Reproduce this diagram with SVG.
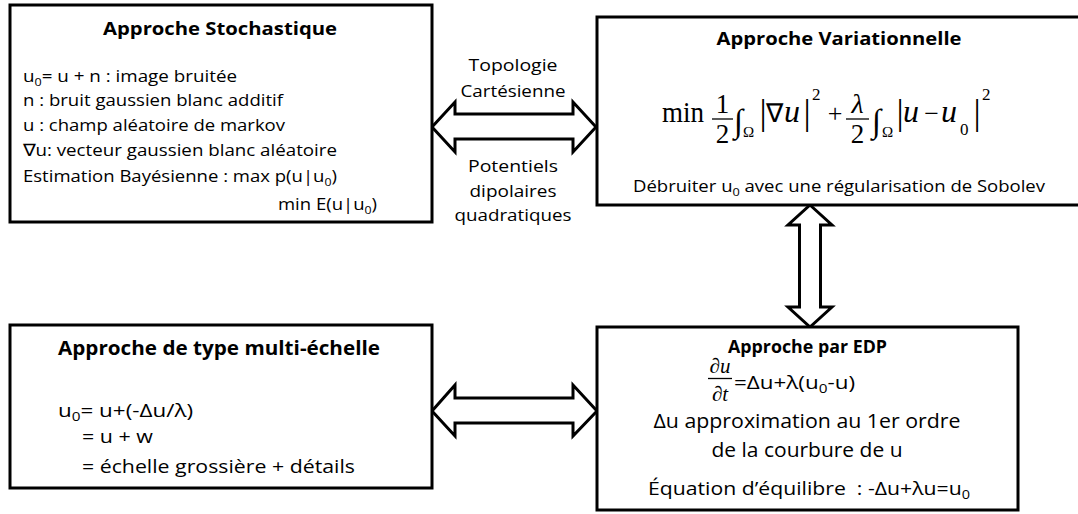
<svg xmlns="http://www.w3.org/2000/svg" width="1078" height="514" viewBox="0 0 1078 514">
<style>
.box{fill:#fff;stroke:#000;stroke-width:3}
.arr{fill:#fff;stroke:#000;stroke-width:3;stroke-linejoin:miter}
.t{font-family:"Open Sans","Liberation Sans",sans-serif;fill:#000}
.b{font-weight:bold}
.m{font-family:"Liberation Serif","Times New Roman",serif;fill:#000}
.i{font-style:italic}
.bar{stroke:#000;stroke-width:1.3}
</style>
<rect width="1078" height="514" fill="#fff"/>
<g id="connectors">
<polygon class="arr" points="432,127 455,102 455,114 573,114 573,102 596,127 573,152 573,139 455,139 455,152"/>
<polygon class="arr" points="432,411 455,385 455,398 573,398 573,385 597,411 573,436 573,423 455,423 455,436"/>
<polygon class="arr" points="810,205 832,225 820.5,225 820.5,307 832,307 810,327 788,307 799.5,307 799.5,225 788,225"/>
<g class="t" font-size="17" text-anchor="middle">
<text x="513" y="71" textLength="89" lengthAdjust="spacingAndGlyphs">Topologie</text>
<text x="513" y="97" textLength="105" lengthAdjust="spacingAndGlyphs">Cartésienne</text>
<text x="513" y="172" textLength="90" lengthAdjust="spacingAndGlyphs">Potentiels</text>
<text x="513" y="197" textLength="87" lengthAdjust="spacingAndGlyphs">dipolaires</text>
<text x="513" y="221" textLength="117" lengthAdjust="spacingAndGlyphs">quadratiques</text>
</g>
</g>
<g id="stochastique">
<rect class="box" x="10" y="5" width="422" height="217"/>
<text class="t b" x="220" y="35" font-size="18" text-anchor="middle" textLength="234" lengthAdjust="spacingAndGlyphs">Approche Stochastique</text>
<g class="t" font-size="16.5">
<text x="23" y="82" textLength="214" lengthAdjust="spacingAndGlyphs">u<tspan font-size="11" dy="4">0</tspan><tspan dy="-4">= u + n : image bruitée</tspan></text>
<text x="23" y="106" textLength="260" lengthAdjust="spacingAndGlyphs">n : bruit gaussien blanc additif</text>
<text x="23" y="131" textLength="262" lengthAdjust="spacingAndGlyphs">u : champ aléatoire de markov</text>
<text x="23" y="156" textLength="314" lengthAdjust="spacingAndGlyphs">∇u: vecteur gaussien blanc aléatoire</text>
<text x="23" y="182" textLength="314" lengthAdjust="spacingAndGlyphs">Estimation Bayésienne : max p(u|u<tspan font-size="11" dy="4">0</tspan><tspan dy="-4">)</tspan></text>
<text x="278" y="210" textLength="99" lengthAdjust="spacingAndGlyphs">min E(u|u<tspan font-size="11" dy="4">0</tspan><tspan dy="-4">)</tspan></text>
</g>
</g>
<g id="variationnelle">
<rect class="box" x="597" y="17" width="500" height="188"/>
<text class="t b" x="839" y="45" font-size="18" text-anchor="middle" textLength="245" lengthAdjust="spacingAndGlyphs">Approche Variationnelle</text>
<g class="m">
<text x="662" y="122" font-size="29" textLength="42" lengthAdjust="spacingAndGlyphs">min</text>
<text x="722.5" y="113" font-size="27" text-anchor="middle">1</text>
<line class="bar" x1="712" y1="119" x2="733" y2="119"/>
<text x="722.5" y="143" font-size="27" text-anchor="middle">2</text>
<text x="734" y="132" font-size="33">∫</text>
<text x="743" y="137" font-size="15">Ω</text>
<text x="763" y="124" font-size="36" text-anchor="middle">|</text>
<text x="766" y="122" font-size="26">∇</text>
<text class="i" x="784" y="122" font-size="32">u</text>
<text x="807" y="124" font-size="36" text-anchor="middle">|</text>
<text x="812" y="100" font-size="17">2</text>
<text x="835" y="122" font-size="26" text-anchor="middle">+</text>
<text class="i" x="857.5" y="113" font-size="28" text-anchor="middle">λ</text>
<line class="bar" x1="846" y1="119" x2="869" y2="119"/>
<text x="857.5" y="143" font-size="27" text-anchor="middle">2</text>
<text x="872" y="132" font-size="33">∫</text>
<text x="882" y="137" font-size="15">Ω</text>
<text x="900" y="124" font-size="36" text-anchor="middle">|</text>
<text class="i" x="903" y="122" font-size="32">u</text>
<text x="931.5" y="122" font-size="26" text-anchor="middle">−</text>
<text class="i" x="941" y="122" font-size="32">u</text>
<text x="960" y="135" font-size="17">0</text>
<text x="977" y="124" font-size="36" text-anchor="middle">|</text>
<text x="982" y="100" font-size="17">2</text>
</g>
<text class="t" x="633" y="192" font-size="16" textLength="412" lengthAdjust="spacingAndGlyphs">Débruiter u<tspan font-size="11" dy="4">0</tspan><tspan dy="-4"> avec une régularisation de Sobolev</tspan></text>
</g>
<g id="multiechelle">
<rect class="box" x="10" y="325" width="422" height="163"/>
<text class="t b" x="58" y="355" font-size="20" textLength="322" lengthAdjust="spacingAndGlyphs">Approche de type multi-échelle</text>
<g class="t" font-size="19">
<text x="58" y="417" textLength="135" lengthAdjust="spacingAndGlyphs">u<tspan font-size="13" dy="4">0</tspan><tspan dy="-4">= u+(-Δu/λ)</tspan></text>
<text x="82" y="443" textLength="71" lengthAdjust="spacingAndGlyphs">= u + w</text>
<text x="82" y="473" textLength="273" lengthAdjust="spacingAndGlyphs">= échelle grossière + détails</text>
</g>
</g>
<g id="edp">
<rect class="box" x="597" y="327" width="421" height="183"/>
<text class="t b" x="807.5" y="353" font-size="17" text-anchor="middle" textLength="159" lengthAdjust="spacingAndGlyphs">Approche par EDP</text>
<g class="m i" font-size="21" text-anchor="middle">
<text x="720" y="373">∂u</text>
<line class="bar" x1="708" y1="378.5" x2="732" y2="378.5" stroke-width="1"/>
<text x="720" y="401">∂t</text>
</g>
<text class="t" x="734" y="389" font-size="19" textLength="121" lengthAdjust="spacingAndGlyphs">=Δu+λ(u<tspan font-size="13" dy="4">0</tspan><tspan dy="-4">-u)</tspan></text>
<text class="t" x="807" y="428" font-size="20" text-anchor="middle" textLength="307" lengthAdjust="spacingAndGlyphs">Δu approximation au 1er ordre</text>
<text class="t" x="807" y="457" font-size="20" text-anchor="middle" textLength="191" lengthAdjust="spacingAndGlyphs">de la courbure de u</text>
<text class="t" x="648" y="495" font-size="19" textLength="322" lengthAdjust="spacingAndGlyphs" xml:space="preserve">Équation d’équilibre  : -Δu+λu=u<tspan font-size="13" dy="4">0</tspan></text>
</g>
</svg>
